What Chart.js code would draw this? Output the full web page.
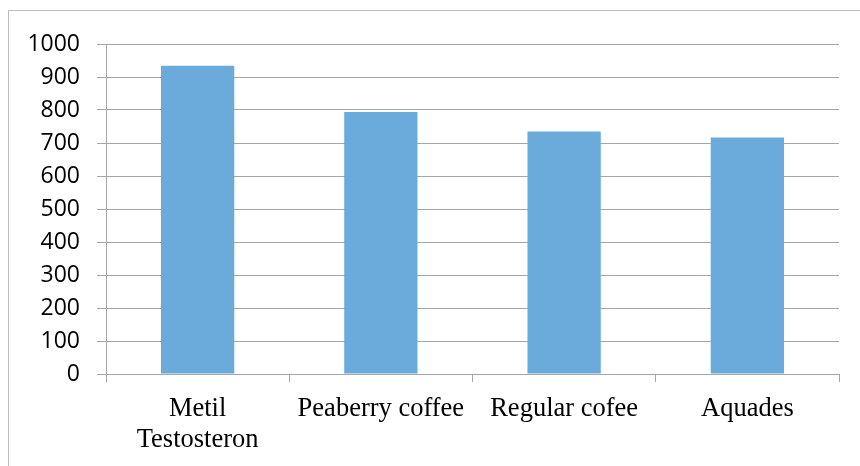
<!DOCTYPE html>
<html>
<head>
<meta charset="utf-8">
<script src="https://cdn.jsdelivr.net/npm/chart.js@4"></script>
<style>
html,body{margin:0;padding:0;background:#fff;width:860px;height:466px;overflow:hidden;}
#frame{position:absolute;left:8px;top:10px;width:900px;height:500px;border-left:1px solid #bcbcbc;border-top:1px solid #bcbcbc;}
#wrap{position:absolute;left:0;top:0;width:860px;height:466px;}
</style>
</head>
<body>
<div id="frame"></div>
<div id="wrap"><canvas id="c"></canvas></div>
<script>
const categories = [["Metil", "Testosteron"], "Peaberry coffee", "Regular cofee", "Aquades"];
const values = [934, 794, 735, 717];
const yTicks = [0, 100, 200, 300, 400, 500, 600, 700, 800, 900, 1000];

const gridColor = '#a6a6a6';
new Chart(document.getElementById('c'), {
  type: 'bar',
  data: {
    labels: categories,
    datasets: [{
      data: values,
      backgroundColor: '#6aabdc',
      borderWidth: 0,
      barPercentage: 0.4,
      categoryPercentage: 1.0
    }]
  },
  options: {
    responsive: true,
    maintainAspectRatio: false,
    animation: false,
    devicePixelRatio: 1,
    layout: { padding: { left: 8, top: 44, right: 21, bottom: 0 } },
    plugins: { legend: { display: false }, tooltip: { enabled: false } },
    scales: {
      x: {
        offset: true,
        grid: { offset: true, drawOnChartArea: false, drawTicks: true, tickLength: 8, color: gridColor },
        border: { color: gridColor },
        ticks: { color: '#000', padding: 12, maxRotation: 0, autoSkip: false,
          font: { family: '"Liberation Serif", "Times New Roman", serif', size: 26.5, lineHeight: 1.15 } },
        afterFit: (s) => { s.height = 92; }
      },
      y: {
        min: 0, max: 1000,
        afterBuildTicks: (s) => { s.ticks = yTicks.map(v => ({ value: v })); },
        grid: { color: gridColor, tickLength: 9, drawTicks: true },
        border: { color: gridColor },
        ticks: { color: '#000', padding: 17, callback: (v) => String(v),
          font: { family: '"Open Sans", sans-serif', size: 23 } },
        afterFit: (s) => { s.width = 98; }
      }
    }
  }
});
</script>
</body>
</html>
